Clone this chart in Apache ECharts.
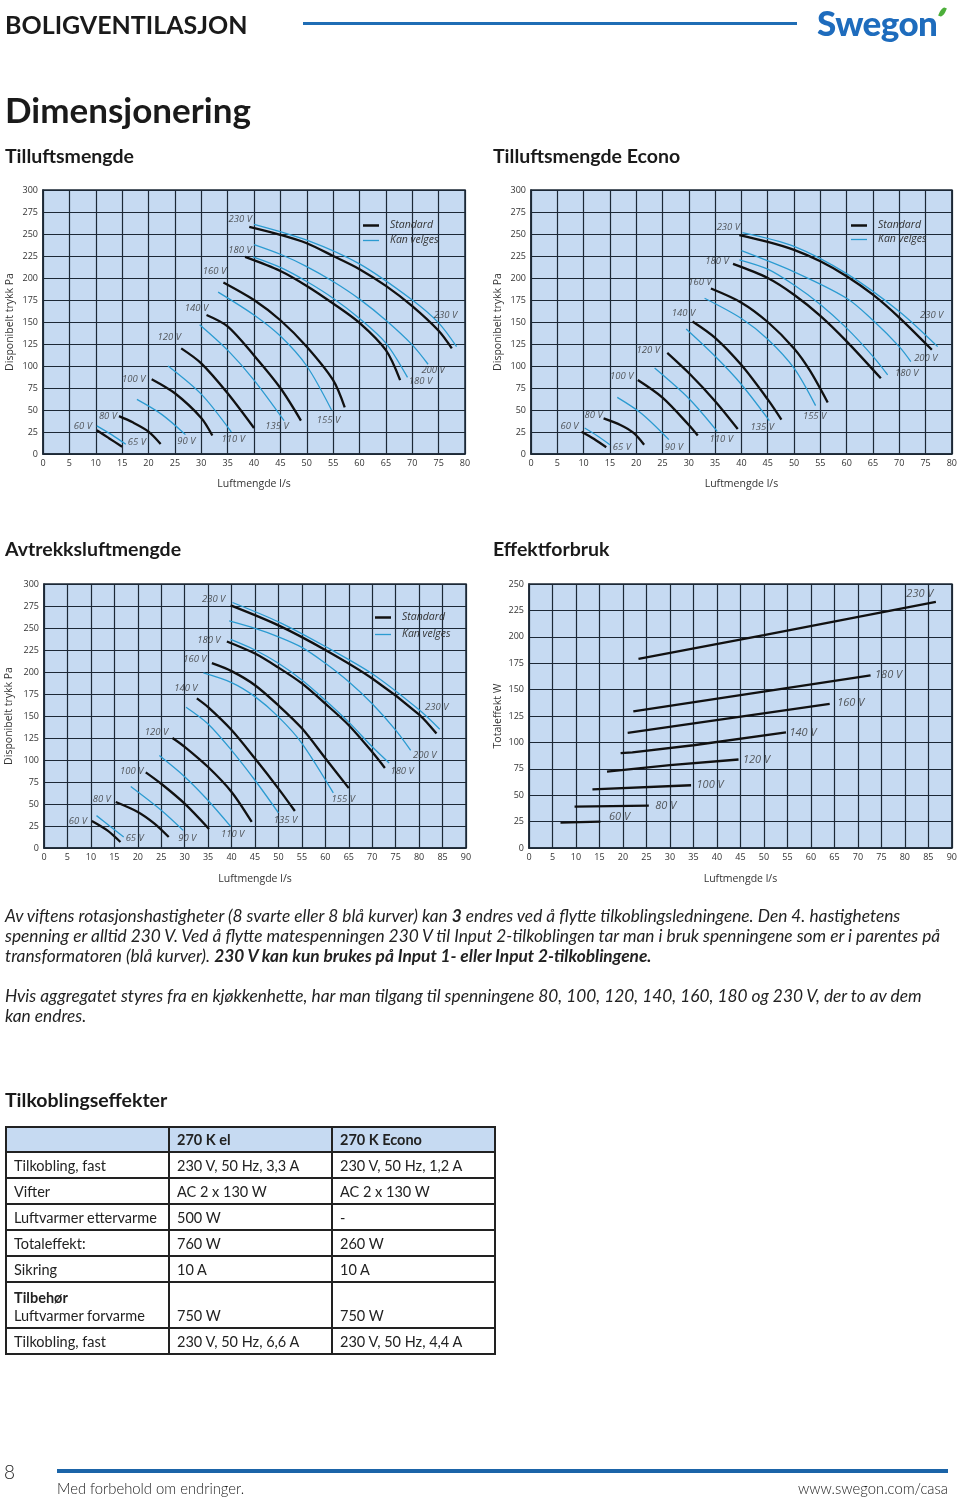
<!DOCTYPE html>
<html>
<head>
<meta charset="utf-8">
<script src="https://cdn.jsdelivr.net/npm/echarts@6/dist/echarts.min.js"></script>
<style>
  html, body { margin:0; padding:0; background:#fff; }
  body { width:960px; height:1497px; position:relative; overflow:hidden; font-family:Lato, 'Open Sans', sans-serif; color:#1a1a1a; }
  .abs { position:absolute; white-space:nowrap; }
  #chart { position:absolute; left:0; top:0; width:960px; height:1497px; z-index:0; }
  .txt { z-index:2; }
  .h1 { font-weight:700; font-size:25px; line-height:28px; }
  .h2 { font-weight:700; font-size:35px; line-height:40px; }
  .h3 { font-weight:700; font-size:19.5px; line-height:22px; }
  .para { font-style:italic; font-size:17.3px; line-height:20px; color:#222; }
  table { position:absolute; left:5px; top:1126px; border-collapse:collapse; font-size:14.5px; z-index:2; }
  td { border:2px solid #222; padding:0 0 0 7px; height:24px; vertical-align:middle; color:#222; }
  tr.hd td { background:#c6daf2; font-weight:700; height:23px; }
  tr.tall td { height:42px; vertical-align:bottom; padding-bottom:2px; line-height:18px; }
</style>
</head>
<body>
<div id="chart"></div>

<div class="abs txt h1" style="left:5px;top:10px;">BOLIGVENTILASJON</div>
<div class="abs" style="left:303px;top:22px;width:494px;height:3px;background:#1f6db5;"></div>
<div class="abs txt" style="left:817px;top:2px;font-size:35px;font-weight:900;color:#1e6cbd;letter-spacing:-0.6px;line-height:40px;">Swegon</div>
<div class="abs" style="left:940px;top:7px;width:5px;height:10px;background:#4caf3a;border-radius:60% 0 60% 0;transform:rotate(25deg);"></div>

<div class="abs txt h2" style="left:5px;top:89px;">Dimensjonering</div>
<div class="abs txt h3" style="left:5px;top:145px;">Tilluftsmengde</div>
<div class="abs txt h3" style="left:493px;top:145px;">Tilluftsmengde Econo</div>
<div class="abs txt h3" style="left:5px;top:538px;">Avtrekksluftmengde</div>
<div class="abs txt h3" style="left:493px;top:538px;">Effektforbruk</div>

<div class="abs txt para" style="left:5px;top:906px;">Av viftens rotasjonshastigheter (8 svarte eller 8 blå kurver) kan <b>3</b> endres ved å flytte tilkoblingsledningene. Den 4. hastighetens</div>
<div class="abs txt para" style="left:5px;top:926px;">spenning er alltid 230 V. Ved å flytte matespenningen 230 V til Input 2-tilkoblingen tar man i bruk spenningene som er i parentes på</div>
<div class="abs txt para" style="left:5px;top:946px;">transformatoren (blå kurver). <b>230 V kan kun brukes på Input 1- eller Input 2-tilkoblingene.</b></div>
<div class="abs txt para" style="left:5px;top:986px;">Hvis aggregatet styres fra en kjøkkenhette, har man tilgang til spenningene 80, 100, 120, 140, 160, 180 og 230 V, der to av dem</div>
<div class="abs txt para" style="left:5px;top:1006px;">kan endres.</div>

<div class="abs txt h3" style="left:5px;top:1089px;">Tilkoblingseffekter</div>
<table id="tbl"></table>

<div class="abs txt" style="left:4px;top:1460px;font-size:19px;font-weight:300;line-height:24px;">8</div>
<div class="abs" style="left:57px;top:1469px;width:891px;height:4px;background:#1b64a8;"></div>
<div class="abs txt" style="left:57px;top:1479px;font-size:14.8px;line-height:18px;font-weight:300;">Med forbehold om endringer.</div>
<div class="abs txt" style="right:12px;top:1479px;font-size:14.8px;line-height:18px;font-weight:300;">www.swegon.com/casa</div>

<script>
// ---------------- DATA ----------------
// Tilluftsmengde (supply air) — x: l/s, y: Pa
const supplyStdVolts = ['60 V','80 V','100 V','120 V','140 V','160 V','180 V','230 V'];
const supplyStdCurves = [
  [[10.2,27],[12.5,18],[15,8.3]],
  [[14.4,43],[17,36],[20,25.5],[22.3,11.4]],
  [[20.6,85],[25,69],[30,41],[32.1,21]],
  [[26.2,120],[30,103],[35,69],[40,29.5]],
  [[31,158],[35,145],[40,112],[45,75],[48.9,38]],
  [[34.2,195],[40,175],[45,152],[50,122],[55,84],[57.2,53]],
  [[38.3,224],[45,208],[50,191],[55,171],[60,149],[65,118],[67.7,84]],
  [[39.1,258],[45,249],[50,239.5],[55,225],[60,210],[65,191],[70,168],[75,140],[77.5,120]]
];
const supplyOptVolts = ['65 V','90 V','110 V','135 V','155 V','180 V','200 V','230 V'];
const supplyOptCurves = [
  [[10.2,32],[13,22],[15.7,11]],
  [[17.8,62],[22.5,45],[27,22]],
  [[23.7,100],[30,68],[35.7,25]],
  [[29.7,147],[35,118],[40,84],[45.7,38]],
  [[33.2,184],[40,158],[45,134],[50,100],[54.7,50]],
  [[39.8,224],[45,212],[50,196],[55,177],[60,154],[65,126],[69.1,87]],
  [[40,238],[45,227],[50,213],[55,196],[60,176],[65,152],[70,124],[73,102]],
  [[40,261],[50,243],[60,216],[70,175],[75,149],[78.4,122]]
];

// Tilluftsmengde Econo
const econoStdVolts = ['60 V','80 V','100 V','120 V','140 V','160 V','180 V','230 V'];
const econoStdCurves = [
  [[9.6,25.3],[12,17],[14.3,7.6]],
  [[13.8,40.5],[17,33],[19.5,24],[21.5,10.6]],
  [[20.3,84],[25,64],[30,33],[31.7,21]],
  [[25.9,115],[30,92],[35,60],[39.3,28.4]],
  [[30.7,150.6],[35,132],[40,101],[45,62],[47.6,39]],
  [[34.2,188],[40,172],[45,150],[50,120],[53,95],[56.4,58.6]],
  [[38.4,216],[45,200],[50,181],[55,157],[60,128],[66.5,86]],
  [[39.6,248.6],[45,241],[50,232],[55,219],[60,202],[65,181],[70,155],[76.2,118.4]]
];
const econoOptVolts = ['65 V','90 V','110 V','135 V','155 V','180 V','200 V','230 V'];
const econoOptCurves = [
  [[10.2,29.5],[12.5,21],[15,10.6]],
  [[16.4,64.3],[21,46],[26.2,16.3]],
  [[23.5,97.6],[30,63],[35.4,25.7]],
  [[29.5,142],[35,111],[40,79],[45.3,38]],
  [[33,177],[40,154],[45,130.5],[50,97.6],[54.1,55]],
  [[39.6,220.6],[45,210],[50,192],[55,170],[60,143],[65,111],[67.8,90]],
  [[40,231],[50,207],[60,177],[65,152],[70,122],[72.2,105]],
  [[40.2,251.6],[50,236],[60,205],[70,162],[77.3,122]]
];

// Avtrekksluftmengde (extract air)
const extractStdVolts = ['60 V','80 V','100 V','120 V','140 V','160 V','180 V','230 V'];
const extractStdCurves = [
  [[10.2,30.7],[13.5,20],[16.3,6.8]],
  [[15.3,52.3],[20,41],[23.5,28],[26.6,12.5]],
  [[21.7,86],[25,73],[30,50.4],[35.2,21.6]],
  [[27.4,125],[30,115],[35,92],[40,63.7],[44.3,29.6]],
  [[32.6,170],[35,160],[40,134],[45,101.6],[50,67.5],[53.5,42]],
  [[35.8,210],[40,201],[45,185],[50,162],[55,136],[60,102],[65,68]],
  [[39,234.7],[45,221],[50,205],[55,187],[60,164],[65,139.5],[70,109],[72.7,91]],
  [[39.8,275.7],[50,253],[60,225],[70,192.6],[80,151.7],[83.7,130]]
];
const extractOptVolts = ['65 V','90 V','110 V','135 V','155 V','180 V','200 V','230 V'];
const extractOptCurves = [
  [[11.2,36.8],[14,25],[17,12.5]],
  [[18.5,70],[25,43],[29.7,20]],
  [[24.6,105],[30,81],[35,54],[39.8,24.6]],
  [[30.3,160],[35,141],[40,111],[45,77],[50,40]],
  [[34,199],[40,188],[45,172],[50,149],[55,119],[61.7,62.6]],
  [[39.8,237],[45,225],[50,210],[55,191],[60,168],[65,143],[70,115],[73.6,96.7]],
  [[39.5,258],[45,249.5],[50,240],[55,228],[60,210],[65,189],[70,164],[75,134],[78.2,111]],
  [[40.2,279],[50,257],[60,229],[70,198],[80,157],[84.4,135]]
];

// Effektforbruk (power) — x: l/s, y: W
const powerVolts = ['60 V','80 V','100 V','120 V','140 V','160 V','180 V','230 V'];
const powerCurves = [
  [[6.7,24],[15.2,25]],
  [[9.7,39.2],[25.5,40.1]],
  [[13.5,55.6],[34.5,59.4]],
  [[16.6,72.4],[30,78.4],[44.6,83.8]],
  [[19.5,89.8],[22,90.5],[35,97.3],[54.7,109.4]],
  [[21,109],[64,136.5]],
  [[22.2,129.3],[72.7,163.4]],
  [[23.3,179.2],[50,201.5],[86.6,233]]
];

// Table
const tableHeader = ['', '270 K el', '270 K Econo'];
const tableRows = [
  ['Tilkobling, fast', '230 V, 50 Hz, 3,3 A', '230 V, 50 Hz, 1,2 A'],
  ['Vifter', 'AC 2 x 130 W', 'AC 2 x 130 W'],
  ['Luftvarmer ettervarme', '500 W', '-'],
  ['Totaleffekt:', '760 W', '260 W'],
  ['Sikring', '10 A', '10 A'],
  ['<b>Tilbehør</b><br>Luftvarmer forvarme', '750 W', '750 W'],
  ['Tilkobling, fast', '230 V, 50 Hz, 6,6 A', '230 V, 50 Hz, 4,4 A']
];

// ---------------- STYLE (label offsets in px, layout) ----------------
const supplyStdOff  = [[-14,-4],[-11,0],[-18,0],[-12,-11],[-10,-7],[-9,-11],[-5,-7],[-9,-8]];
const supplyOptOff  = [[11,-2],[1,7],[2,7],[-7,6],[-3,10],[13,4],[5,6],[-11,-31]];
const econoStdOff   = [[-12,-5],[-10,-3],[-16,-4],[-19,-3],[-9,-8],[-11,-6],[-16,-3],[-11,-8]];
const econoOptOff   = [[12,3],[5,8],[4,8],[-7,7],[-1,11],[19,-2],[15,-3],[-6,-31]];
const extractStdOff = [[-14,0],[-14,-3],[-14,-1],[-16,-6],[-11,-10],[-17,-4],[-18,-1],[-17,-6]];
const extractOptOff = [[11,1],[4,8],[2,8],[7,7],[10,6],[13,8],[14,5],[-3,-22]];
const powerOff      = [[19,-5],[17,0],[19,0],[18,0],[17,0],[21,-1],[18,-1],[-16,-8]];

// build table
(function(){
  const t = document.getElementById('tbl');
  let h = '<colgroup><col style="width:163px"><col style="width:163px"><col style="width:163px"></colgroup>';
  h += '<tr class="hd">' + tableHeader.map(c => '<td>' + c + '</td>').join('') + '</tr>';
  tableRows.forEach((r, i) => {
    h += '<tr' + (i === 5 ? ' class="tall"' : '') + '>' + r.map(c => '<td>' + c + '</td>').join('') + '</tr>';
  });
  t.innerHTML = h;
})();

const FONT = "'Open Sans', sans-serif";
const INK = '#1c2836';
const TXT = '#333';
const BLACK = '#111';
const CYAN = '#2b9bd1';

const panels = [
  { grid:{left:43, top:190, width:422, height:264}, xmax:80, ymax:300, yname:'Disponibelt trykk Pa', yGap:27, xGap:25,
    std:[supplyStdVolts, supplyStdCurves, supplyStdOff], opt:[supplyOptVolts, supplyOptCurves, supplyOptOff],
    legend:{left:363, top1:220, top2:235}, lblSize:9.5, smooth:0.3 },
  { grid:{left:531, top:190, width:422, height:264}, xmax:80, ymax:300, yname:'Disponibelt trykk Pa', yGap:27, xGap:25,
    std:[econoStdVolts, econoStdCurves, econoStdOff], opt:[econoOptVolts, econoOptCurves, econoOptOff],
    legend:{left:851, top1:220, top2:234}, lblSize:9.5, smooth:0.3 },
  { grid:{left:44, top:584, width:422, height:264}, xmax:90, ymax:300, yname:'Disponibelt trykk Pa', yGap:29, xGap:26,
    std:[extractStdVolts, extractStdCurves, extractStdOff], opt:[extractOptVolts, extractOptCurves, extractOptOff],
    legend:{left:375, top1:612, top2:629}, lblSize:9.5, smooth:0.3 },
  { grid:{left:529, top:584, width:424, height:264}, xmax:90, ymax:250, yname:'Totaleffekt W', yGap:25, xGap:26,
    std:[powerVolts, powerCurves, powerOff], opt:null, legend:null, lblSize:11, smooth:false }
];

const grids = [], xAxes = [], yAxes = [], series = [], legends = [];
panels.forEach((p, k) => {
  grids.push(Object.assign({show:true, backgroundColor:'#c6daf2', borderColor:INK, borderWidth:1.5}, p.grid));
  xAxes.push({
    type:'value', gridIndex:k, min:0, max:p.xmax, interval:5,
    name:'Luftmengde l/s', nameLocation:'middle', nameGap:p.xGap,
    nameTextStyle:{fontFamily:FONT, fontSize:10.5, color:TXT},
    axisLine:{show:true, lineStyle:{color:INK, width:1.5}}, axisTick:{show:false},
    axisLabel:{fontFamily:FONT, fontSize:9, color:TXT, margin:5},
    splitLine:{show:true, lineStyle:{color:INK, width:1.2}}
  });
  yAxes.push({
    type:'value', gridIndex:k, min:0, max:p.ymax, interval:25,
    name:p.yname, nameLocation:'middle', nameGap:p.yGap,
    nameTextStyle:{fontFamily:FONT, fontSize:10.5, color:TXT},
    axisLine:{show:true, lineStyle:{color:INK, width:1.5}}, axisTick:{show:false},
    axisLabel:{fontFamily:FONT, fontSize:9, color:TXT, margin:5},
    splitLine:{show:true, lineStyle:{color:INK, width:1.2}}
  });
  const addSet = (set, name, color, width, atEnd) => {
    const [volts, curves, offs] = set;
    curves.forEach((pts) => {
      series.push({
        type:'line', name:name, xAxisIndex:k, yAxisIndex:k, data:pts,
        smooth:p.smooth, showSymbol:false, symbol:'none', silent:true,
        lineStyle:{color:color, width:width, cap:'butt'}, itemStyle:{color:color}, z:atEnd ? 3 : 4
      });
    });
    series.push({
      type:'scatter', name:name + ' labels ' + k, xAxisIndex:k, yAxisIndex:k, silent:true, z:6,
      symbolSize:1, itemStyle:{color:'rgba(0,0,0,0)'},
      data: curves.map((pts, i) => ({
        value: atEnd ? pts[pts.length - 1] : pts[0],
        label:{show:true, formatter:volts[i], position:'inside', offset:offs[i],
               fontFamily:FONT, fontStyle:'italic', fontSize:p.lblSize, color:TXT}
      }))
    });
  };
  if (p.opt) addSet(p.opt, 'Kan velges', CYAN, 1.3, true);
  addSet(p.std, 'Standard', BLACK, 2.3, k === 3);
  if (p.legend) {
    const ts = {fontFamily:FONT, fontStyle:'italic', fontSize:10.5, color:TXT, padding:[0,0,0,6]};
    legends.push({data:[{name:'Standard', icon:'rect'}], left:p.legend.left, top:p.legend.top1,
      itemWidth:16, itemHeight:2.5, textStyle:ts, selectedMode:false, padding:0});
    legends.push({data:[{name:'Kan velges', icon:'rect'}], left:p.legend.left, top:p.legend.top2,
      itemWidth:16, itemHeight:1.3, textStyle:ts, selectedMode:false, padding:0});
  }
});

const chart = echarts.init(document.getElementById('chart'), null, {renderer:'canvas'});
chart.setOption({
  animation:false,
  backgroundColor:'transparent',
  grid:grids, xAxis:xAxes, yAxis:yAxes, legend:legends, series:series
});
</script>
</body>
</html>
